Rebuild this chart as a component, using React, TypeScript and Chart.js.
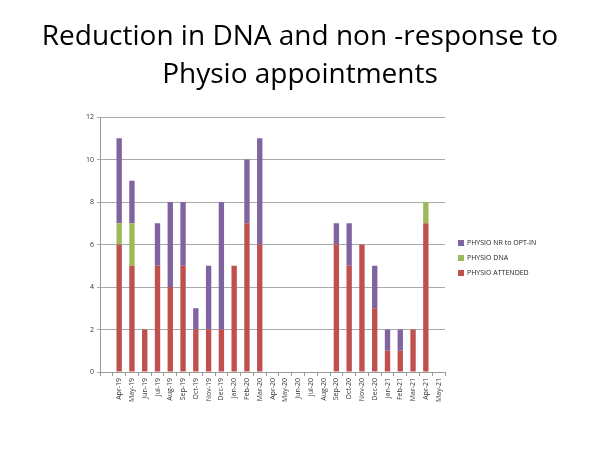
import React, { useEffect, useRef } from "react";
import { Chart, registerables } from "chart.js";

Chart.register(...registerables);

const categories = [
  "", "Apr-19", "May-19", "Jun-19", "Jul-19", "Aug-19", "Sep-19", "Oct-19", "Nov-19", "Dec-19",
  "Jan-20", "Feb-20", "Mar-20", "Apr-20", "May-20", "Jun-20", "Jul-20", "Aug-20", "Sep-20",
  "Oct-20", "Nov-20", "Dec-20", "Jan-21", "Feb-21", "Mar-21", "Apr-21", "May-21",
];
const attended = [0, 6, 5, 2, 5, 4, 5, 2, 2, 2, 5, 7, 6, 0, 0, 0, 0, 0, 6, 5, 6, 3, 1, 1, 2, 7, 0];
const dna = [0, 1, 2, 0, 0, 0, 0, 0, 0, 0, 0, 0, 0, 0, 0, 0, 0, 0, 0, 0, 0, 0, 0, 0, 0, 1, 0];
const nrOptIn = [0, 4, 2, 0, 2, 4, 3, 1, 3, 6, 0, 3, 5, 0, 0, 0, 0, 0, 1, 2, 0, 2, 1, 1, 0, 0, 0];
const yTicks = [0, 2, 4, 6, 8, 10, 12];
const titleLines = ["Reduction in DNA and non -response to", "Physio appointments"];

const FONT = "'Open Sans', 'Liberation Sans', sans-serif";

const legendPlugin = {
  id: "sideLegend",
  afterDraw(chart: any) {
    const ctx = chart.ctx;
    const area = chart.chartArea;
    const ds = chart.data.datasets.slice().reverse();
    ctx.save();
    ctx.font = `7px ${FONT}`;
    ctx.textBaseline = "middle";
    ctx.textAlign = "left";
    const x = area.right + 13;
    const y0 = 243;
    ds.forEach((d: any, i: number) => {
      const y = y0 + i * 15;
      ctx.fillStyle = d.backgroundColor;
      ctx.fillRect(x, y - 3, 6, 6);
      ctx.fillStyle = "#222";
      ctx.fillText(d.label, x + 9, y);
    });
    ctx.restore();
  },
};

export default function App() {
  const ref = useRef<HTMLCanvasElement>(null);
  useEffect(() => {
    document.body.style.margin = "0";
    const chart = new Chart(ref.current!, {
      type: "bar",
      data: {
        labels: categories,
        datasets: [
          { label: "PHYSIO ATTENDED", data: attended, backgroundColor: "#C0504D" },
          { label: "PHYSIO DNA", data: dna, backgroundColor: "#9BBB59" },
          { label: "PHYSIO NR to OPT-IN", data: nrOptIn, backgroundColor: "#8064A2" },
        ],
      },
      options: {
        animation: false,
        responsive: false,
        layout: { padding: { left: 0, right: 155, top: 117, bottom: 0 } },
        datasets: { bar: { barPercentage: 0.42, categoryPercentage: 1 } },
        plugins: {
          legend: { display: false },
          tooltip: { enabled: false },
          title: { display: false },
        },
        scales: {
          x: {
            stacked: true,
            afterFit: (s: any) => { s.height = 78; },
            grid: { drawOnChartArea: false, drawTicks: true, tickLength: 4, color: "#999" },
            border: { color: "#999" },
            ticks: {
              autoSkip: false,
              maxRotation: 90,
              minRotation: 90,
              color: "#333",
              padding: 2,
              font: { family: FONT, size: 7 },
            },
          },
          y: {
            stacked: true,
            min: 0,
            max: 12,
            afterFit: (s: any) => { s.width = 100; },
            afterBuildTicks: (s: any) => { s.ticks = yTicks.map((v) => ({ value: v })); },
            grid: { color: "#aaa", tickLength: 3 },
            border: { color: "#999" },
            ticks: { color: "#333", padding: 3, font: { family: FONT, size: 7 } },
          },
        },
      },
      plugins: [legendPlugin],
    });
    return () => chart.destroy();
  }, []);
  return (
    <div style={{ position: "relative", width: 600, height: 450, background: "#fff" }}>
      <div
        style={{
          position: "absolute",
          top: 15,
          left: 0,
          width: 600,
          textAlign: "center",
          fontFamily: FONT,
          fontSize: 28,
          lineHeight: "38px",
          color: "#000",
        }}
      >
        {titleLines.map((t, i) => (
          <div key={i}>{t}</div>
        ))}
      </div>
      <canvas ref={ref} width={600} height={450} style={{ display: "block" }} />
    </div>
  );
}
